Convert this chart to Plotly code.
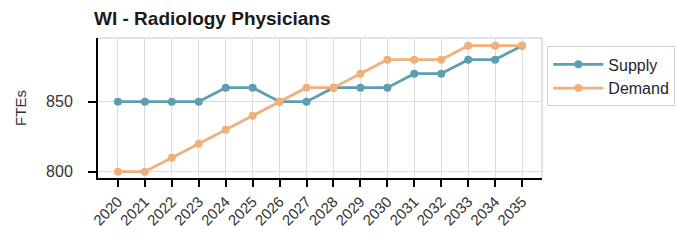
import plotly.graph_objects as go

years = list(range(2020, 2036))
supply = [850, 850, 850, 850, 860, 860, 850, 850, 860, 860, 860, 870, 870, 880, 880, 890]
demand = [800, 800, 810, 820, 830, 840, 850, 860, 860, 870, 880, 880, 880, 890, 890, 890]
y_ticks = [800, 850]

supply_color = "#5b9fb2"
demand_color = "#efb07c"

fig = go.Figure()
fig.add_trace(go.Scatter(x=years, y=supply, name="Supply", mode="lines+markers",
                         line=dict(color=supply_color, width=2.8),
                         marker=dict(size=8, color=supply_color)))
fig.add_trace(go.Scatter(x=years, y=demand, name="Demand", mode="lines+markers",
                         line=dict(color=demand_color, width=2.8),
                         marker=dict(size=8, color=demand_color)))

W, H = 688, 236
L, R, T, B = 88, 154, 30, 66
fig.update_layout(
    width=W, height=H,
    margin=dict(l=L, r=R, t=T, b=B),
    paper_bgcolor="white", plot_bgcolor="white",
    font=dict(family="Liberation Sans, Arial, sans-serif", color="#262626"),
    title=dict(text="<b>WI - Radiology Physicians</b>", x=86/W, xanchor="left",
               y=1 - 10/H, yanchor="middle", font=dict(size=19, color="#1a1a1a")),
    showlegend=True,
    legend=dict(x=1.012, y=0.94, xanchor="left", yanchor="top",
                bordercolor="#d0d0d0", borderwidth=1, bgcolor="white",
                font=dict(size=16, color="#262626"), tracegroupgap=2, itemwidth=50),
    xaxis=dict(range=[2019.26, 2035.74], tickmode="array", tickvals=years,
               ticktext=[str(y) for y in years], tickangle=-45,
               tickfont=dict(size=15, color="#333333"),
               showgrid=True, gridcolor="#dcdcdc", gridwidth=1,
               showline=True, linecolor="black", linewidth=2,
               ticks="outside", ticklen=7, tickwidth=1.5, tickcolor="black",
               zeroline=False, automargin=False),
    yaxis=dict(range=[795.5, 895.5], tickmode="array", tickvals=y_ticks,
               tickfont=dict(size=16, color="#333333"), ticklabelstandoff=12,
               title=dict(text="FTEs", font=dict(size=15, color="#333333"), standoff=16),
               showgrid=True, gridcolor="#dcdcdc", gridwidth=1,
               showline=True, linecolor="black", linewidth=2,
               ticks="outside", ticklen=8, tickwidth=1.5, tickcolor="black",
               zeroline=False),
)
# light frame on top and right of plot area
fig.add_shape(type="line", xref="paper", yref="paper", x0=0, x1=1, y0=1, y1=1,
              line=dict(color="#d8d8d8", width=1.5), layer="below")
fig.add_shape(type="line", xref="paper", yref="paper", x0=1, x1=1, y0=0, y1=1,
              line=dict(color="#d8d8d8", width=1.5), layer="below")

fig.write_html("out.html")
